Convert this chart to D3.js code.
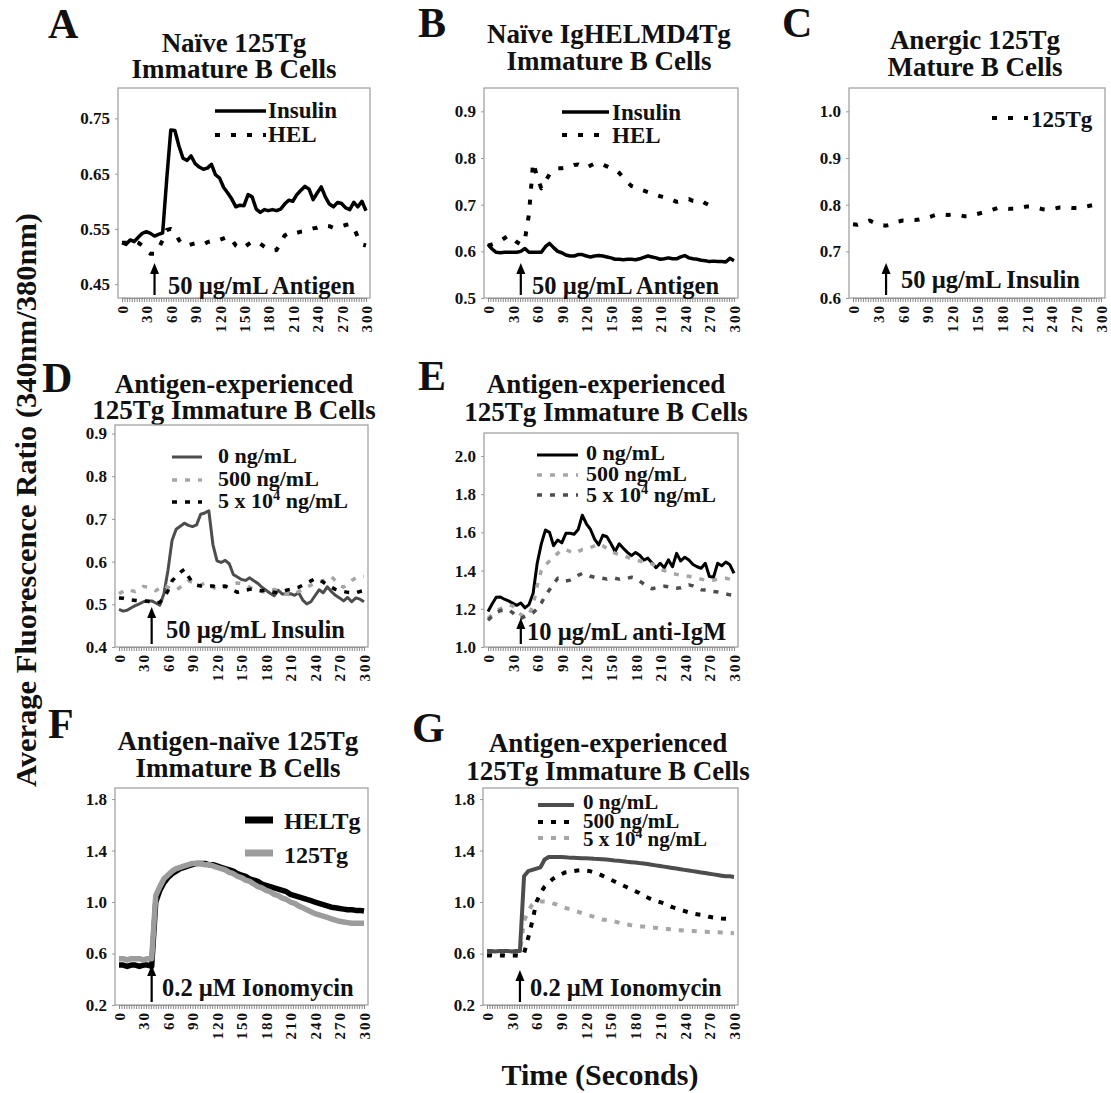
<!DOCTYPE html>
<html>
<head>
<meta charset="utf-8">
<script src="https://cdn.jsdelivr.net/npm/d3@7"></script>
<style>
body { margin: 0; background: #fff; }
svg text { font-family: "Liberation Serif", "Times New Roman", serif; font-weight: bold; fill: #111; }
</style>
</head>
<body>
<svg id="chart" width="1111" height="1093"></svg>
<script>
// time points (seconds) shared by every trace
const seconds = [0,5,10,15,20,25,30,35,40,45,50,55,60,65,70,75,80,85,90,95,100,
    105,110,115,120,125,130,135,140,145,150,155,160,165,170,175,180,185,190,195,200,
    205,210,215,220,225,230,235,240,245,250,255,260,265,270,275,280,285,290,295,300];
const tickSeconds = [0,30,60,90,120,150,180,210,240,270,300];

// A - naive 125Tg immature
const naiveInsulinA = [0.525,0.522,0.530,0.527,0.535,0.542,0.545,0.542,0.537,0.540,
    0.543,0.640,0.729,0.728,0.700,0.678,0.674,0.682,0.668,0.662,
    0.658,0.660,0.667,0.648,0.642,0.625,0.615,0.604,0.590,0.593,
    0.592,0.612,0.608,0.586,0.580,0.585,0.583,0.585,0.583,0.586,
    0.595,0.602,0.600,0.612,0.620,0.627,0.622,0.603,0.615,0.626,
    0.608,0.595,0.590,0.598,0.596,0.588,0.585,0.598,0.590,0.600,0.583];
const naiveHELA = [0.525,0.525,0.527,0.528,0.525,0.520,0.510,0.505,0.505,0.515,
    0.530,0.548,0.550,0.545,0.530,0.521,0.520,0.522,0.524,0.523,
    0.522,0.526,0.528,0.527,0.530,0.533,0.536,0.530,0.520,0.515,
    0.516,0.522,0.527,0.526,0.523,0.518,0.513,0.511,0.512,0.525,
    0.538,0.542,0.540,0.543,0.545,0.546,0.549,0.551,0.552,0.555,
    0.556,0.555,0.552,0.553,0.555,0.557,0.559,0.552,0.535,0.522,0.520];

// B - naive IgHELMD4Tg immature
const igInsulinB = [0.615,0.605,0.598,0.597,0.598,0.598,0.598,0.598,0.600,0.606,
    0.598,0.598,0.598,0.598,0.610,0.617,0.608,0.600,0.597,0.592,
    0.590,0.590,0.593,0.593,0.590,0.588,0.590,0.591,0.590,0.588,
    0.586,0.583,0.583,0.582,0.583,0.583,0.582,0.584,0.587,0.590,
    0.588,0.586,0.583,0.584,0.586,0.584,0.584,0.588,0.591,0.586,
    0.584,0.583,0.581,0.580,0.578,0.579,0.578,0.578,0.577,0.585,0.580];
const igHELB = [0.612,0.615,0.618,0.622,0.628,0.634,0.628,0.620,0.615,0.625,
    0.680,0.790,0.760,0.735,0.750,0.765,0.772,0.778,0.778,0.779,
    0.781,0.785,0.786,0.782,0.779,0.784,0.788,0.789,0.786,0.782,
    0.778,0.775,0.768,0.758,0.748,0.740,0.737,0.733,0.730,0.727,
    0.723,0.721,0.718,0.716,0.713,0.710,0.706,0.707,0.711,0.712,
    0.708,0.707,0.709,0.703,0.699,0.696,0.694,null,null,null,null];

// C - anergic 125Tg mature
const anergicC = [0.758,0.757,0.760,0.763,0.766,0.762,0.758,0.756,0.755,0.757,
    0.761,0.764,0.766,0.766,0.767,0.767,0.768,0.770,0.772,0.775,
    0.778,0.779,0.779,0.778,0.779,0.779,0.777,0.775,0.775,0.778,
    0.780,0.782,0.784,0.787,0.790,0.793,0.793,0.792,0.791,0.791,
    0.792,0.794,0.796,0.796,0.794,0.792,0.790,0.789,0.790,0.792,
    0.794,0.794,0.794,0.793,0.793,0.793,0.795,0.797,0.799,0.800,0.801];

// D - antigen-experienced, insulin stimulation
const expZeroD = [0.488,0.484,0.486,0.492,0.497,0.501,0.506,0.508,0.508,0.503,
    0.498,0.525,0.580,0.650,0.676,0.683,0.690,0.685,0.682,0.686,
    0.711,0.714,0.719,0.640,0.602,0.598,0.603,0.595,0.570,0.564,
    0.558,0.556,0.562,0.555,0.549,0.540,0.533,0.526,0.520,0.533,
    0.524,0.524,0.525,0.521,0.527,0.510,0.501,0.506,0.520,0.534,
    0.527,0.541,0.530,0.521,0.515,0.508,0.516,0.506,0.515,0.512,0.506];
const exp500D = [0.525,0.530,0.535,0.532,0.530,0.535,0.542,0.540,0.535,0.532,
    0.538,0.545,0.540,0.535,0.533,0.540,0.548,0.555,0.552,0.548,
    0.545,0.550,0.545,0.540,0.535,0.538,0.540,0.545,0.548,0.550,
    0.548,0.545,0.540,0.535,0.532,0.530,0.528,0.530,0.535,0.532,
    0.528,0.525,0.522,0.525,0.530,0.535,0.540,0.545,0.550,0.552,
    0.555,0.560,0.565,0.555,0.545,0.540,0.548,0.556,0.562,0.565,0.565];
const exp5e4D = [0.515,0.514,0.512,0.510,0.509,0.508,0.508,0.507,0.505,0.503,
    0.505,0.515,0.532,0.555,0.565,0.575,0.582,0.565,0.551,0.545,
    0.543,0.544,0.543,0.543,0.540,0.542,0.543,0.538,0.533,0.528,
    0.530,0.533,0.535,0.535,0.533,0.532,0.533,0.530,0.528,0.527,
    0.530,0.533,0.535,0.538,0.540,0.545,0.550,0.555,0.560,0.558,
    0.552,0.545,0.540,0.535,0.532,0.530,0.528,0.527,0.527,0.530,0.532];

// E - antigen-experienced, anti-IgM stimulation
const expZeroE = [1.186,1.225,1.260,1.262,1.250,1.241,1.230,1.218,1.230,1.205,
    1.222,1.280,1.438,1.540,1.612,1.600,1.530,1.560,1.545,1.595,
    1.595,1.590,1.615,1.690,1.645,1.615,1.565,1.534,1.585,1.577,
    1.540,1.500,1.540,1.517,1.495,1.478,1.495,1.480,1.455,1.465,
    1.440,1.415,1.438,1.415,1.456,1.420,1.490,1.450,1.470,1.455,
    1.432,1.420,1.412,1.438,1.369,1.365,1.438,1.425,1.445,1.430,1.386];
const exp500E = [1.15,1.17,1.19,1.20,1.21,1.22,1.215,1.19,1.17,1.16,
    1.17,1.22,1.32,1.40,1.43,1.45,1.47,1.49,1.51,1.51,
    1.50,1.49,1.50,1.51,1.51,1.52,1.53,1.54,1.53,1.515,
    1.505,1.49,1.485,1.48,1.47,1.46,1.455,1.45,1.445,1.44,
    1.435,1.42,1.405,1.40,1.39,1.385,1.38,1.375,1.37,1.37,
    1.365,1.36,1.355,1.35,1.35,1.35,1.355,1.36,1.36,1.355,1.35];
const exp5e4E = [1.14,1.16,1.18,1.19,1.195,1.195,1.18,1.16,1.15,1.16,
    1.17,1.18,1.20,1.23,1.27,1.30,1.33,1.36,1.355,1.345,
    1.35,1.36,1.375,1.385,1.38,1.37,1.365,1.365,1.36,1.355,
    1.36,1.36,1.355,1.36,1.36,1.365,1.36,1.345,1.33,1.315,
    1.305,1.31,1.315,1.318,1.315,1.31,1.308,1.31,1.318,1.325,
    1.32,1.31,1.30,1.298,1.295,1.29,1.288,1.283,1.278,1.273,1.27];

// F - antigen-naive, ionomycin
const ionoHELTgF = [0.51,0.51,0.50,0.51,0.51,0.50,0.51,0.51,0.50,1.00,
    1.09,1.15,1.19,1.22,1.24,1.26,1.27,1.28,1.29,1.30,
    1.30,1.30,1.29,1.29,1.28,1.27,1.26,1.25,1.24,1.22,
    1.21,1.20,1.18,1.17,1.16,1.14,1.13,1.12,1.11,1.10,
    1.09,1.08,1.06,1.05,1.04,1.03,1.02,1.01,1.00,0.99,
    0.98,0.97,0.96,0.955,0.95,0.945,0.94,0.94,0.935,0.935,0.93];
const iono125TgF = [0.56,0.56,0.55,0.56,0.56,0.56,0.55,0.56,0.56,1.05,
    1.12,1.18,1.21,1.24,1.26,1.27,1.28,1.29,1.30,1.30,
    1.30,1.29,1.29,1.28,1.27,1.26,1.25,1.23,1.22,1.20,
    1.19,1.17,1.16,1.14,1.12,1.11,1.09,1.08,1.06,1.05,
    1.03,1.02,1.00,0.99,0.97,0.955,0.94,0.925,0.91,0.90,
    0.89,0.88,0.87,0.86,0.85,0.845,0.84,0.835,0.835,0.835,0.835];

// G - antigen-experienced, ionomycin
const ionoZeroG = [0.62,0.62,0.615,0.62,0.62,0.62,0.615,0.62,0.62,1.20,
    1.24,1.25,1.26,1.27,1.33,1.35,1.35,1.35,1.35,1.348,
    1.345,1.345,1.343,1.34,1.34,1.338,1.336,1.335,1.333,1.33,
    1.327,1.323,1.32,1.317,1.313,1.31,1.307,1.303,1.30,1.295,
    1.29,1.285,1.28,1.275,1.27,1.265,1.26,1.255,1.25,1.245,
    1.24,1.235,1.23,1.225,1.22,1.215,1.21,1.205,1.20,1.20,1.195];
const iono500G = [0.585,0.585,0.58,0.585,0.585,0.58,0.585,0.585,0.58,0.60,
    0.72,0.85,1.00,1.07,1.12,1.15,1.18,1.20,1.215,1.23,
    1.235,1.24,1.245,1.248,1.245,1.24,1.23,1.22,1.205,1.19,
    1.175,1.16,1.145,1.13,1.115,1.10,1.085,1.07,1.05,1.035,
    1.02,1.01,1.00,0.99,0.975,0.96,0.95,0.94,0.93,0.92,
    0.91,0.905,0.90,0.895,0.885,0.88,0.875,0.872,0.87,0.868,0.865];
const iono5e4G = [0.61,0.61,0.61,0.61,0.61,0.61,0.61,0.61,0.61,0.85,
    0.93,0.98,1.00,1.005,1.005,1.00,0.99,0.98,0.965,0.955,
    0.945,0.935,0.925,0.915,0.905,0.895,0.885,0.875,0.865,0.86,
    0.855,0.85,0.84,0.83,0.825,0.82,0.815,0.81,0.81,0.805,
    0.80,0.80,0.795,0.79,0.79,0.785,0.78,0.78,0.778,0.776,
    0.775,0.773,0.772,0.77,0.768,0.767,0.765,0.763,0.762,0.76,0.758];

const svg = d3.select('#chart');

// colours / dash styles
const black = '#000', darkGrey = '#4d4d4d', lightGrey = '#a6a6a6';
const wideDash = '5,11', shortDash = '5,8';

const panels = [
    { letter: 'A', lx: 48, ly: 38, left: 118, right: 370, top: 88, bottom: 298,
      yDomain: [0.425, 0.805], yTicks: [0.45, 0.55, 0.65, 0.75], yFormat: '.2f',
      title: ['Naïve 125Tg', 'Immature B Cells'], titleX: 234, titleY: [52, 78],
      note: '50 µg/mL Antigen', noteX: 168, noteY: 294, arrowTop: 263,
      legend: { x1: 215, x2: 266, tx: 268, rows: [111, 135], tys: [118, 142], size: 23 },
      series: [
        { label: 'Insulin', values: naiveInsulinA, color: black, width: 3.5 },
        { label: 'HEL', values: naiveHELA, color: black, width: 4, dash: wideDash }
      ] },
    { letter: 'B', lx: 418, ly: 37, left: 484, right: 738, top: 88, bottom: 298,
      yDomain: [0.5, 0.95], yTicks: [0.5, 0.6, 0.7, 0.8, 0.9], yFormat: '.1f',
      title: ['Naïve IgHELMD4Tg', 'Immature B Cells'], titleX: 609, titleY: [43, 70],
      note: '50 µg/mL Antigen', noteX: 532, noteY: 294, arrowTop: 263,
      legend: { x1: 562, x2: 609, tx: 612, rows: [112, 135], tys: [120, 143], size: 23 },
      series: [
        { label: 'Insulin', values: igInsulinB, color: black, width: 3.5 },
        { label: 'HEL', values: igHELB, color: black, width: 4, dash: wideDash }
      ] },
    { letter: 'C', lx: 782, ly: 37, left: 849, right: 1105, top: 88, bottom: 298,
      yDomain: [0.6, 1.05], yTicks: [0.6, 0.7, 0.8, 0.9, 1.0], yFormat: '.1f',
      title: ['Anergic 125Tg', 'Mature B Cells'], titleX: 975, titleY: [49, 76],
      note: '50 µg/mL Insulin', noteX: 901, noteY: 288, arrowTop: 263,
      legend: { x1: 992, x2: 1028, tx: 1031, rows: [118], tys: [127], size: 23 },
      series: [
        { label: '125Tg', values: anergicC, color: black, width: 4, dash: wideDash }
      ] },
    { letter: 'D', lx: 42, ly: 392, left: 115, right: 368, top: 425, bottom: 647,
      yDomain: [0.4, 0.92], yTicks: [0.4, 0.5, 0.6, 0.7, 0.8, 0.9], yFormat: '.1f',
      title: ['Antigen-experienced', '125Tg Immature B Cells'], titleX: 234, titleY: [393, 419],
      note: '50 µg/mL Insulin', noteX: 166, noteY: 638, arrowTop: 607,
      legend: { x1: 172, x2: 202, tx: 218, rows: [457, 480, 502], tys: [463, 486, 508], size: 22 },
      series: [
        { label: '0 ng/mL', values: expZeroD, color: darkGrey, width: 3 },
        { label: '500 ng/mL', values: exp500D, color: lightGrey, width: 3.5, dash: shortDash },
        { label: '5 x 10^4 ng/mL', values: exp5e4D, color: black, width: 3.5, dash: shortDash }
      ] },
    { letter: 'E', lx: 418, ly: 390, left: 484, right: 738, top: 433, bottom: 647,
      yDomain: [1.0, 2.12], yTicks: [1.0, 1.2, 1.4, 1.6, 1.8, 2.0], yFormat: '.1f',
      title: ['Antigen-experienced', '125Tg Immature B Cells'], titleX: 606, titleY: [393, 421],
      note: '10 µg/mL anti-IgM', noteX: 527, noteY: 640, arrowTop: 618,
      legend: { x1: 537, x2: 578, tx: 586, rows: [455, 475, 495], tys: [460, 481, 502], size: 22 },
      series: [
        { label: '0 ng/mL', values: expZeroE, color: black, width: 3 },
        { label: '500 ng/mL', values: exp500E, color: lightGrey, width: 3.5, dash: shortDash },
        { label: '5 x 10^4 ng/mL', values: exp5e4E, color: darkGrey, width: 3.5, dash: shortDash }
      ] },
    { letter: 'F', lx: 48, ly: 738, left: 115, right: 368, top: 788, bottom: 1005,
      yDomain: [0.2, 1.886], yTicks: [0.2, 0.6, 1.0, 1.4, 1.8], yFormat: '.1f',
      title: ['Antigen-naïve 125Tg', 'Immature B Cells'], titleX: 238, titleY: [750, 777],
      note: '0.2 µM Ionomycin', noteX: 162, noteY: 996, arrowTop: 965,
      legend: { x1: 245, x2: 273, tx: 284, rows: [820, 853], tys: [829, 863], size: 24, sampleWidth: 7 },
      series: [
        { label: 'HELTg', values: ionoHELTgF, color: black, width: 5.5 },
        { label: '125Tg', values: iono125TgF, color: '#9c9c9c', width: 5.5 }
      ] },
    { letter: 'G', lx: 412, ly: 742, left: 483, right: 738, top: 788, bottom: 1005,
      yDomain: [0.2, 1.886], yTicks: [0.2, 0.6, 1.0, 1.4, 1.8], yFormat: '.1f',
      title: ['Antigen-experienced', '125Tg Immature B Cells'], titleX: 608, titleY: [752, 780],
      note: '0.2 µM Ionomycin', noteX: 530, noteY: 996, arrowTop: 970,
      legend: { x1: 538, x2: 574, tx: 583, rows: [805, 822, 838], tys: [809, 828, 846], size: 21 },
      series: [
        { label: '5 x 10^4 ng/mL', values: iono5e4G, color: lightGrey, width: 4, dash: shortDash },
        { label: '500 ng/mL', values: iono500G, color: black, width: 4, dash: shortDash },
        { label: '0 ng/mL', values: ionoZeroG, color: darkGrey, width: 4 }
      ], legendOrder: [2, 1, 0] }
];

// writes "5 x 10^4 ng/mL" with a raised 4
function writeLabel(sel, str) {
    const parts = str.split('^');
    sel.append('tspan').text(parts[0]);
    if (parts.length > 1) {
        sel.append('tspan').attr('dy', -8).attr('font-size', '0.65em').text(parts[1][0]);
        sel.append('tspan').attr('dy', 8).text(parts[1].slice(1));
    }
}

function drawPanel(p) {
    const g = svg.append('g');
    const x = d3.scaleLinear().domain([0, 300]).range([p.left + 4, p.right - 4]);
    const y = d3.scaleLinear().domain(p.yDomain).range([p.bottom, p.top]);

    g.append('text').attr('x', p.lx).attr('y', p.ly)
        .attr('font-size', 42).text(p.letter);

    g.append('text').attr('text-anchor', 'middle').attr('font-size', 27)
        .selectAll('tspan').data(p.title).join('tspan')
        .attr('x', p.titleX).attr('y', (d, i) => p.titleY[i]).text(d => d);

    g.append('rect')
        .attr('x', p.left).attr('y', p.top)
        .attr('width', p.right - p.left).attr('height', p.bottom - p.top)
        .attr('fill', 'none').attr('stroke', '#a3a3a3').attr('stroke-width', 1.3);

    // dense minor ticks on the time axis
    g.append('g').attr('transform', `translate(0,${p.bottom})`)
        .call(d3.axisBottom(x).tickValues(d3.range(0, 301, 3)).tickSize(4).tickFormat(''))
        .call(a => a.select('.domain').attr('stroke', '#999'))
        .selectAll('line').attr('stroke', '#8a8a8a');

    g.append('g').attr('transform', `translate(0,${p.bottom})`)
        .call(d3.axisBottom(x).tickValues(tickSeconds).tickSize(0))
        .call(a => a.select('.domain').remove())
        .attr('font-family', null).attr('font-size', null)
        .selectAll('text')
        .attr('transform', 'rotate(-90)')
        .attr('text-anchor', 'end')
        .attr('x', -6).attr('y', 0).attr('dy', '0.36em')
        .attr('font-size', 15).attr('letter-spacing', 2)
        .attr('fill', '#111');

    g.append('g').attr('transform', `translate(${p.left},0)`)
        .call(d3.axisLeft(y).tickValues(p.yTicks).tickSize(3).tickPadding(5)
            .tickFormat(d3.format(p.yFormat)))
        .call(a => a.select('.domain').remove())
        .attr('font-family', null).attr('font-size', null)
        .call(a => a.selectAll('line').attr('stroke', '#999'))
        .selectAll('text').attr('font-size', 17).attr('fill', '#111');

    const line = d3.line()
        .defined(d => d[1] != null)
        .x(d => x(d[0]))
        .y(d => y(d[1]));

    p.series.forEach(s => {
        g.append('path')
            .datum(seconds.map((t, i) => [t, s.values[i]]))
            .attr('fill', 'none')
            .attr('stroke', s.color)
            .attr('stroke-width', s.width)
            .attr('stroke-dasharray', s.dash || null)
            .attr('stroke-linejoin', 'round')
            .attr('d', line);
    });

    // arrow at the time of addition
    const ax = x(40);
    g.append('line').attr('x1', ax).attr('x2', ax)
        .attr('y1', p.bottom - 3).attr('y2', p.arrowTop + 8)
        .attr('stroke', '#000').attr('stroke-width', 2.2);
    g.append('path')
        .attr('d', `M${ax - 4.5},${p.arrowTop + 11}L${ax},${p.arrowTop}L${ax + 4.5},${p.arrowTop + 11}Z`)
        .attr('fill', '#000');
    g.append('text').attr('x', p.noteX).attr('y', p.noteY)
        .attr('font-size', 24.5).text(p.note);

    // legend
    const lg = p.legend;
    const order = p.legendOrder || p.series.map((d, i) => i);
    order.forEach((si, row) => {
        const s = p.series[si];
        g.append('line')
            .attr('x1', lg.x1).attr('x2', lg.x2)
            .attr('y1', lg.rows[row]).attr('y2', lg.rows[row])
            .attr('stroke', s.color)
            .attr('stroke-width', lg.sampleWidth || s.width)
            .attr('stroke-dasharray', s.dash || null);
        const t = g.append('text').attr('x', lg.tx).attr('y', lg.tys[row])
            .attr('font-size', lg.size);
        writeLabel(t, s.label);
    });
}

panels.forEach(drawPanel);

svg.append('text')
    .attr('transform', 'translate(36,500) rotate(-90)')
    .attr('text-anchor', 'middle')
    .attr('font-size', 30)
    .attr('textLength', 574).attr('lengthAdjust', 'spacingAndGlyphs')
    .text('Average Fluorescence Ratio (340nm/380nm)');

svg.append('text')
    .attr('x', 600).attr('y', 1085)
    .attr('text-anchor', 'middle')
    .attr('font-size', 30)
    .text('Time (Seconds)');
</script>
</body>
</html>
